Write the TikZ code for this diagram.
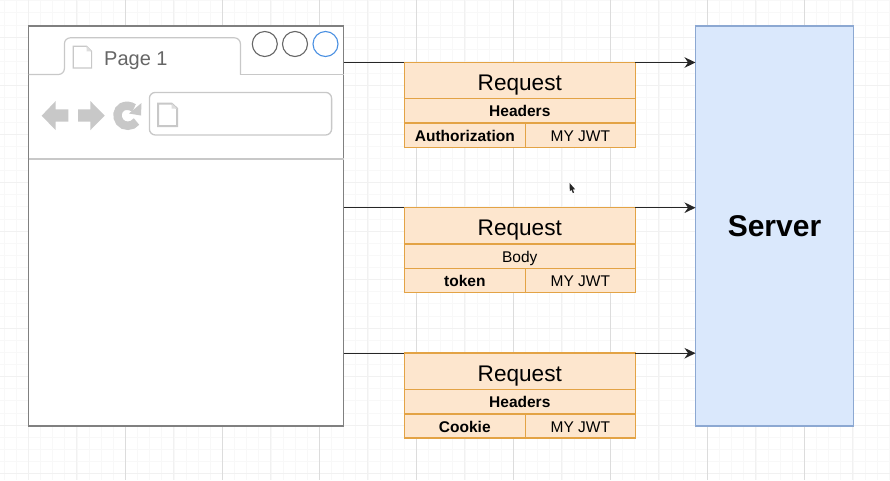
\documentclass[tikz,border=0pt]{standalone}
\usepackage{fontspec}
\setmainfont{Liberation Sans}
\usepackage{xcolor}
\usetikzlibrary{arrows.meta,positioning}
\definecolor{gridminor}{HTML}{F8F8F8}
\definecolor{gridmid}{HTML}{F1F1F1}
\definecolor{gridmajor}{HTML}{DCDCDC}
\definecolor{framegray}{HTML}{808080}
\definecolor{chrome}{HTML}{C8C8C8}
\definecolor{tabtext}{HTML}{666666}
\definecolor{closeblue}{HTML}{4A90E2}
\definecolor{reqfill}{HTML}{FDE6CE}
\definecolor{reqborder}{HTML}{E3A345}
\definecolor{serverfill}{HTML}{DAE8FC}
\definecolor{serverborder}{HTML}{8CA8D2}
\begin{document}
\begin{tikzpicture}[
  x=1pt, y=-1pt,
  reqcell/.style={draw=reqborder, fill=reqfill, line width=1.5pt, outer sep=0pt, inner sep=0pt, minimum height=24.4pt, align=center, font=\fontsize{15.5}{17}\selectfont, text height=12.6pt, text depth=0.6pt},
  reqtitle/.style={reqcell, minimum width=231pt, minimum height=36.2pt, font=\fontsize{22.6}{24}\selectfont, text height=22pt, text depth=2.4pt},
  reqrow/.style={reqcell, minimum width=231pt},
  reqkey/.style={reqcell, minimum width=121pt, font=\fontsize{15.5}{17}\selectfont\bfseries},
  reqval/.style={reqcell, minimum width=110pt},
  winbtn/.style={circle, draw=tabtext, fill=white, line width=1.1pt, minimum size=25pt, inner sep=0pt},
  chromeline/.style={draw=chrome, line width=1.2pt},
  link/.style={line width=1.4pt, color=black!85},
  msg/.style={link, -{Stealth[length=11pt,width=10.5pt]}}
]
  \path[use as bounding box, fill=white] (0,0) rectangle (890,480);

  % grid
  \foreach \gx in {0,...,73} \draw[gridminor, line width=.8pt] (4.25+12.125*\gx,0) -- (4.25+12.125*\gx,480);
  \foreach \gy in {0,...,39} \draw[gridminor, line width=.8pt] (0,0.75+12.125*\gy) -- (890,0.75+12.125*\gy);
  \foreach \gx in {0,...,9} \draw[gridmid] (28.5+97*\gx,0) -- (28.5+97*\gx,480);
  \foreach \gx in {0,...,8} \draw[gridmid] (76.5+97*\gx,0) -- (76.5+97*\gx,480);
  \foreach \gy in {0,...,9} \draw[gridmid] (0,37+48.5*\gy) -- (890,37+48.5*\gy);
  \foreach \gx in {1,...,8} \draw[gridmajor] (28.5+97*\gx,0) -- (28.5+97*\gx,480);

  % browser
  \node[draw=framegray, fill=white, line width=1.5pt, minimum width=315pt, minimum height=400pt, outer sep=0pt, anchor=north west] (browser) at (28.5,26) {};
  \draw[chromeline, rounded corners=6pt] (28.5,74.5) -- (64.4,74.5) -- (64.4,37.8) -- (240.4,37.8) -- (240.4,74.5);
  \draw[chromeline] (240.4,74.5) -- (343.5,74.5);
  \draw[chromeline] (28.5,159) -- (343.5,159);
  \draw[chromeline, line join=miter] (73.2,46.2) -- (86.5,46.2) -- (91.6,51.4) -- (91.6,68) -- (73.2,68) -- cycle;
  \fill[chrome!60] (86.5,46.2) -- (91.6,51.4) -- (86.5,51.4) -- cycle;
  \node[anchor=base west, inner sep=0pt, text=tabtext, font=\fontsize{20}{22}\selectfont] (tablabel) at (104,65.2) {Page 1};
  \node[winbtn] (btnmin) at (264.8,44) {};
  \node[winbtn] (btnmax) at (295,44) {};
  \node[winbtn, draw=closeblue] (btnclose) at (325.5,44) {};

  % toolbar
  \fill[chrome] (41.7,115.7) -- (55.7,101) -- (55.7,109.3) -- (68.3,109.3) -- (68.3,121.7) -- (55.7,121.7) -- (55.7,130.2) -- cycle;
  \fill[chrome] (104.7,115.7) -- (90.3,101) -- (90.3,109.3) -- (78,109.3) -- (78,121.7) -- (90.3,121.7) -- (90.3,130.2) -- cycle;
  \draw[chrome, line width=8.4pt] (136.5,121.5) .. controls (132.5,127) and (123.5,127.2) .. (119.8,122) .. controls (116,117) and (117,110) .. (122,107) .. controls (126,105) and (130,105.5) .. (134,108);
  \fill[chrome] (141.5,103) -- (141,115.5) -- (129,113.5) -- cycle;
  \draw[chrome, line width=1.3pt, rounded corners=6pt] (149.4,92.4) rectangle (331.6,135);
  \draw[chrome, line width=2pt] (158,103.5) -- (171.5,103.5) -- (177,108.5) -- (177,126) -- (158,126) -- cycle;
  \fill[chrome!60] (171.5,103.5) -- (177,108.5) -- (171.5,108.5) -- cycle;

  % server
  \node[draw=serverborder, fill=serverfill, line width=1.5pt, minimum width=158pt, minimum height=400pt, outer sep=0pt, anchor=north west, font=\fontsize{30}{32}\selectfont\bfseries] (server) at (695.5,26) {Server};

  % first request
  \node[reqtitle, anchor=north west] (reqonetitle) at (404.3,62.5) {Request};
  \node[reqrow, below=0pt of reqonetitle] (reqonesub) {\bfseries Headers};
  \node[reqkey, anchor=north west] (reqonekey) at (reqonesub.south west) {Authorization};
  \node[reqval, right=0pt of reqonekey] (reqoneval) {MY JWT};

  % second request
  \node[reqtitle, anchor=north west] (reqtwotitle) at (404.3,207.7) {Request};
  \node[reqrow, below=0pt of reqtwotitle] (reqtwosub) {Body};
  \node[reqkey, anchor=north west] (reqtwokey) at (reqtwosub.south west) {token};
  \node[reqval, right=0pt of reqtwokey] (reqtwoval) {MY JWT};

  % third request
  \node[reqtitle, anchor=north west] (reqthreetitle) at (404.3,353.2) {Request};
  \node[reqrow, below=0pt of reqthreetitle] (reqthreesub) {\bfseries Headers};
  \node[reqkey, anchor=north west] (reqthreekey) at (reqthreesub.south west) {Cookie};
  \node[reqval, right=0pt of reqthreekey] (reqthreeval) {MY JWT};

  \draw[link] (browser.east |- reqonetitle.north west) -- (reqonetitle.north west);
  \draw[msg] (reqonetitle.north east) -- (server.west |- reqonetitle.north east);
  \draw[link] (browser.east |- reqtwotitle.north west) -- (reqtwotitle.north west);
  \draw[msg] (reqtwotitle.north east) -- (server.west |- reqtwotitle.north east);
  \draw[link] (browser.east |- reqthreetitle.north west) -- (reqthreetitle.north west);
  \draw[msg] (reqthreetitle.north east) -- (server.west |- reqthreetitle.north east);

  % pointer
  \fill[black!85] (569.6,183) -- (575.2,189.4) -- (572.9,189.2) -- (574,192.6) -- (572.8,193) -- (571.5,189.8) -- (569.8,191.2) -- cycle;
\end{tikzpicture}
\end{document}
